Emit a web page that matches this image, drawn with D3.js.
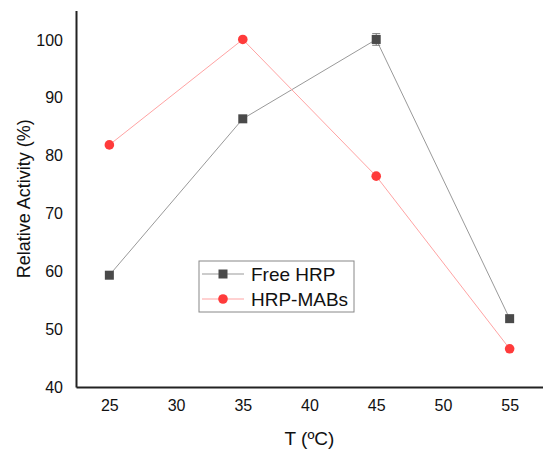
<!DOCTYPE html>
<html>
<head>
<meta charset="utf-8">
<script src="https://cdn.jsdelivr.net/npm/d3@7"></script>
<style>
  body { margin: 0; background: #fff; }
  text { font-family: "Liberation Sans", Arial, sans-serif; }
</style>
</head>
<body>
<svg id="chart" width="543" height="453"></svg>
<script>
const svg = d3.select('#chart');

// data
const temps = [25, 35, 45, 55];
const freeHRP = [59.3, 86.3, 100, 51.8];
const freeErr = [0, 0, 1, 0];
const hrpMABs = [81.8, 100, 76.4, 46.6];
const xTicks = [25, 30, 35, 40, 45, 50, 55];
const yTicks = [40, 50, 60, 70, 80, 90, 100];

const series = [
  { name: 'Free HRP', values: freeHRP, err: freeErr, line: '#999', fill: '#4a4a4a', shape: 'square' },
  { name: 'HRP-MABs', values: hrpMABs, err: [0, 0, 0, 0], line: '#ffa3a3', fill: '#ff3b3b', shape: 'circle' }
];

const plot = { left: 76, right: 543, top: 10.5, bottom: 387 };

const x = d3.scaleLinear().domain([22.5, 57.5]).range([plot.left, plot.right]);
const y = d3.scaleLinear().domain([40, 105]).range([plot.bottom, plot.top]);

// axes (no tick marks)
const xAxis = svg.append('g')
  .attr('transform', `translate(0, ${plot.bottom})`)
  .call(d3.axisBottom(x).tickValues(xTicks).tickSize(0).tickPadding(13));
const yAxis = svg.append('g')
  .attr('transform', `translate(${plot.left}, 0)`)
  .call(d3.axisLeft(y).tickValues(yTicks).tickSize(0).tickPadding(13));

[xAxis, yAxis].forEach(a => {
  a.select('.domain').attr('stroke', '#222').attr('stroke-width', 2);
  a.selectAll('text').attr('font-size', '16px').attr('fill', '#111')
    .attr('font-family', '"Liberation Sans", Arial, sans-serif');
});
yAxis.selectAll('text').attr('dy', '0.35em');

// axis titles
svg.append('text')
  .attr('x', (plot.left + plot.right) / 2).attr('y', 445)
  .attr('text-anchor', 'middle').attr('font-size', '19px').attr('fill', '#111')
  .text('T (ºC)');
svg.append('text')
  .attr('transform', `translate(30, ${(plot.top + plot.bottom) / 2}) rotate(-90)`)
  .attr('text-anchor', 'middle').attr('font-size', '18px').attr('fill', '#111')
  .text('Relative Activity (%)');

const line = d3.line().x((d, i) => x(temps[i])).y(d => y(d));

series.forEach(s => {
  svg.append('path').datum(s.values)
    .attr('d', line).attr('fill', 'none')
    .attr('stroke', s.line).attr('stroke-width', 1);

  // error bars
  const eb = svg.append('g');
  s.values.forEach((v, i) => {
    if (!s.err[i]) return;
    const cx = x(temps[i]);
    eb.append('line').attr('x1', cx).attr('x2', cx)
      .attr('y1', y(v - s.err[i])).attr('y2', y(v + s.err[i]))
      .attr('stroke', '#777').attr('stroke-width', 1);
    [v - s.err[i], v + s.err[i]].forEach(e => {
      eb.append('line').attr('x1', cx - 4).attr('x2', cx + 4)
        .attr('y1', y(e)).attr('y2', y(e))
        .attr('stroke', '#777').attr('stroke-width', 1);
    });
  });

  const pts = svg.append('g').selectAll('.pt').data(s.values).enter();
  if (s.shape === 'square') {
    pts.append('rect')
      .attr('x', (d, i) => x(temps[i]) - 4.5).attr('y', d => y(d) - 4.5)
      .attr('width', 9).attr('height', 9).attr('fill', s.fill);
  } else {
    pts.append('circle')
      .attr('cx', (d, i) => x(temps[i])).attr('cy', d => y(d))
      .attr('r', 4.8).attr('fill', s.fill);
  }
});

// legend
const lg = svg.append('g').attr('transform', 'translate(199, 261)');
lg.append('rect').attr('width', 155).attr('height', 51)
  .attr('fill', '#fff').attr('stroke', '#888').attr('stroke-width', 1);
series.forEach((s, i) => {
  const cy = 13 + i * 25;
  lg.append('line').attr('x1', 3).attr('x2', 45).attr('y1', cy).attr('y2', cy)
    .attr('stroke', s.line).attr('stroke-width', 1);
  if (s.shape === 'square') {
    lg.append('rect').attr('x', 24 - 4.5).attr('y', cy - 4.5)
      .attr('width', 9).attr('height', 9).attr('fill', s.fill);
  } else {
    lg.append('circle').attr('cx', 24).attr('cy', cy).attr('r', 4.8).attr('fill', s.fill);
  }
  lg.append('text').attr('x', 52).attr('y', cy).attr('dy', '0.35em')
    .attr('font-size', '19px').attr('fill', '#111').text(s.name);
});
</script>
</body>
</html>
